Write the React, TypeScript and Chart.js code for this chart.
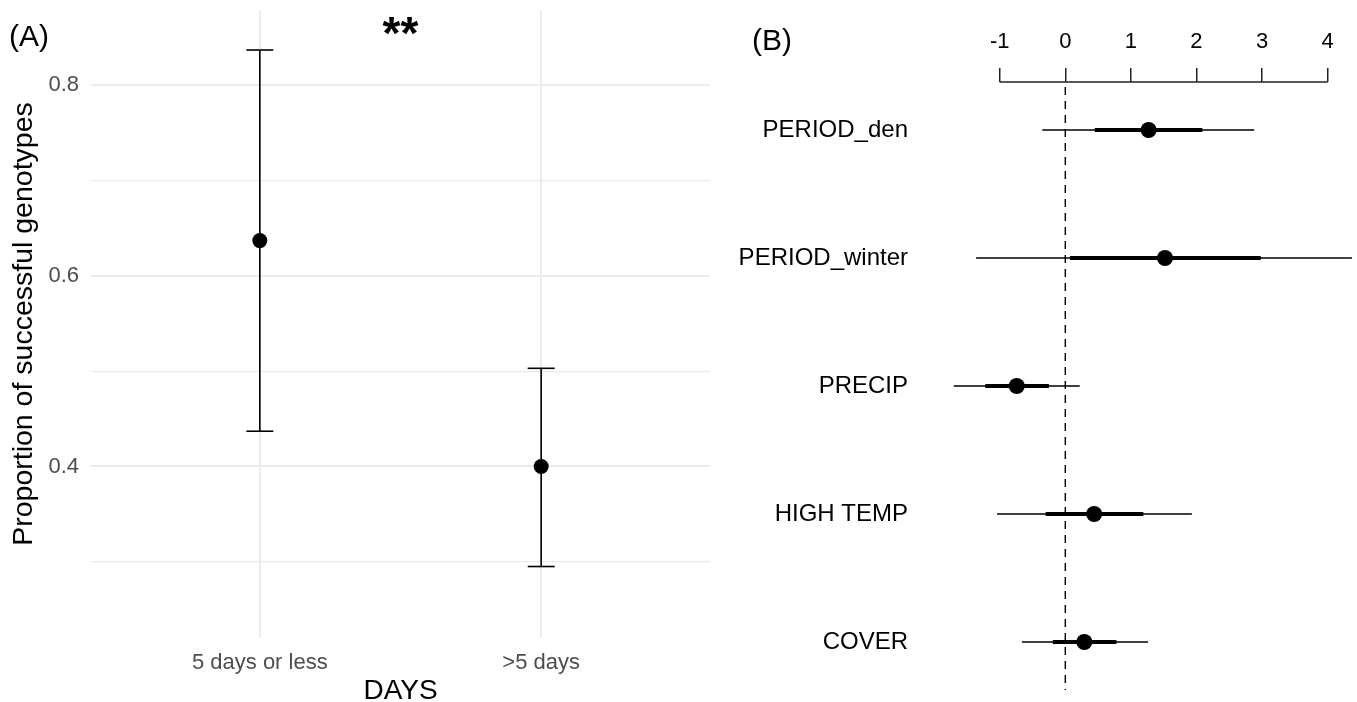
import React, { useEffect, useRef } from "react";
import { Chart, registerables } from "chart.js";
Chart.register(...registerables);

const FONT = "'Liberation Sans', Arial, Helvetica, sans-serif";

// ---------- Panel A data ----------
const daysCategories = ["5 days or less", ">5 days"];
const proportionMean = [0.637, 0.4];
const proportionLower = [0.437, 0.295];
const proportionUpper = [0.837, 0.503];
const yTicksA = [0.3, 0.4, 0.5, 0.6, 0.7, 0.8];
const yLabelTicksA = [0.4, 0.6, 0.8];
const significanceText = "**";
const significancePos = { x: 0.5, y: 0.862 };

// ---------- Panel B data ----------
const predictors = ["PERIOD_den", "PERIOD_winter", "PRECIP", "HIGH TEMP", "COVER"];
const estimate = [1.27, 1.52, -0.74, 0.44, 0.29];
const lower95 = [-0.35, -1.36, -1.7, -1.04, -0.66];
const upper95 = [2.88, 4.37, 0.22, 1.93, 1.26];
const lower50 = [0.45, 0.07, -1.22, -0.3, -0.19];
const upper50 = [2.09, 2.98, -0.25, 1.19, 0.78];
const xTicksB = [-1, 0, 1, 2, 3, 4];
const referenceX = 0;

const near = (a: number, b: number) => Math.abs(a - b) < 1e-6;
const rowY = (i: number) => predictors.length - i;

const noEdgePadding = (s: any) => {
  s.paddingTop = 0;
  s.paddingBottom = 0;
  s.paddingLeft = 0;
  s.paddingRight = 0;
};

function buildChartA(canvas: HTMLCanvasElement) {
  const datasets: any[] = [];
  daysCategories.forEach((_, i) => {
    datasets.push({
      data: [
        { x: i, y: proportionLower[i] },
        { x: i, y: proportionUpper[i] },
      ],
      showLine: true,
      borderColor: "#000",
      borderWidth: 1.6,
      pointStyle: "line",
      pointRadius: 13.5,
      pointBorderWidth: 1.6,
      pointBorderColor: "#000",
      pointBackgroundColor: "#000",
    });
  });
  datasets.push({
    data: daysCategories.map((_, i) => ({ x: i, y: proportionMean[i] })),
    pointStyle: "circle",
    pointRadius: 7.5,
    backgroundColor: "#000",
    borderColor: "#000",
    borderWidth: 0,
  });

  const labelsPlugin = {
    id: "labelsA",
    afterDraw(chart: any) {
      const { ctx, scales } = chart;
      ctx.save();
      ctx.fillStyle = "#000";
      ctx.textBaseline = "middle";
      ctx.textAlign = "left";
      ctx.font = `30px ${FONT}`;
      ctx.fillText("(A)", 9, 38);
      ctx.textAlign = "center";
      ctx.font = `bold 46px ${FONT}`;
      ctx.fillText(
        significanceText,
        scales.x.getPixelForValue(significancePos.x),
        scales.y.getPixelForValue(significancePos.y) + 10
      );
      ctx.restore();
    },
  };

  return new Chart(canvas, {
    type: "scatter",
    data: { datasets },
    plugins: [labelsPlugin],
    options: {
      animation: false,
      responsive: false,
      events: [],
      layout: { autoPadding: false, padding: { top: 10, right: 10, left: 0, bottom: 0 } },
      plugins: { legend: { display: false }, tooltip: { enabled: false } },
      scales: {
        x: {
          type: "linear",
          min: -0.6,
          max: 1.6,
          afterBuildTicks: (s: any) => {
            s.ticks = daysCategories.map((_, i) => ({ value: i }));
          },
          afterFit: (s: any) => {
            s.height = 64;
            noEdgePadding(s);
          },
          ticks: {
            callback: (v: any) => daysCategories[Math.round(v)],
            font: { size: 22, family: FONT },
            color: "#4D4D4D",
            padding: 12,
            maxRotation: 0,
            autoSkip: false,
          },
          grid: { color: "#EBEBEB", lineWidth: 2, drawTicks: false },
          border: { display: false },
          title: {
            display: true,
            text: "DAYS",
            font: { size: 28, family: FONT, lineHeight: 0.75 },
            color: "#000",
            padding: 0,
          },
        },
        y: {
          type: "linear",
          min: 0.22,
          max: 0.879,
          afterBuildTicks: (s: any) => {
            s.ticks = yTicksA.map((v) => ({ value: v }));
          },
          afterFit: (s: any) => {
            s.width = 91;
            noEdgePadding(s);
          },
          ticks: {
            callback: (v: any) =>
              yLabelTicksA.some((t) => near(t, v)) ? Number(v).toFixed(1) : "",
            font: { size: 22, family: FONT },
            color: "#4D4D4D",
            padding: 12,
            autoSkip: false,
          },
          grid: {
            color: "#EBEBEB",
            lineWidth: (c: any) =>
              c.tick && yLabelTicksA.some((t) => near(t, c.tick.value)) ? 2 : 1.2,
            drawTicks: false,
          },
          border: { display: false },
          title: {
            display: true,
            text: "Proportion of successful genotypes",
            font: { size: 28.5, family: FONT, lineHeight: 1.2 },
            color: "#000",
            padding: { top: 7, bottom: 0 },
          },
        },
      },
    },
  } as any);
}

function buildChartB(canvas: HTMLCanvasElement) {
  const datasets: any[] = [];
  predictors.forEach((_, i) => {
    datasets.push({
      data: [
        { x: lower95[i], y: rowY(i) },
        { x: upper95[i], y: rowY(i) },
      ],
      showLine: true,
      borderColor: "#000",
      borderWidth: 1.5,
      pointRadius: 0,
    });
    datasets.push({
      data: [
        { x: lower50[i], y: rowY(i) },
        { x: upper50[i], y: rowY(i) },
      ],
      showLine: true,
      borderColor: "#000",
      borderWidth: 4,
      pointRadius: 0,
    });
  });
  datasets.push({
    data: predictors.map((_, i) => ({ x: estimate[i], y: rowY(i) })),
    pointStyle: "circle",
    pointRadius: 8,
    backgroundColor: "#000",
    borderColor: "#000",
    borderWidth: 0,
  });

  const decoPlugin = {
    id: "decoB",
    beforeDatasetsDraw(chart: any) {
      const { ctx, scales, chartArea } = chart;
      const x0 = scales.x.getPixelForValue(referenceX);
      ctx.save();
      ctx.strokeStyle = "#000";
      ctx.lineWidth = 1.4;
      ctx.setLineDash([8, 6]);
      ctx.beginPath();
      ctx.moveTo(x0, chartArea.top + 5);
      ctx.lineTo(x0, chartArea.bottom - 12);
      ctx.stroke();
      ctx.restore();
    },
    afterDraw(chart: any) {
      const { ctx, scales, chartArea } = chart;
      ctx.save();
      ctx.strokeStyle = "#222";
      ctx.lineWidth = 1.5;
      ctx.beginPath();
      ctx.moveTo(scales.x.getPixelForValue(xTicksB[0]), chartArea.top);
      ctx.lineTo(scales.x.getPixelForValue(xTicksB[xTicksB.length - 1]), chartArea.top);
      ctx.stroke();
      ctx.fillStyle = "#000";
      ctx.textBaseline = "middle";
      ctx.textAlign = "left";
      ctx.font = `30px ${FONT}`;
      ctx.fillText("(B)", 32, 42);
      ctx.restore();
    },
  };

  return new Chart(canvas, {
    type: "scatter",
    data: { datasets },
    plugins: [decoPlugin],
    options: {
      animation: false,
      responsive: false,
      events: [],
      layout: { autoPadding: false, padding: 0 },
      plugins: { legend: { display: false }, tooltip: { enabled: false } },
      scales: {
        x: {
          type: "linear",
          position: "top",
          min: -2.0625,
          max: 4.447,
          afterBuildTicks: (s: any) => {
            s.ticks = xTicksB.map((v) => ({ value: v }));
          },
          afterFit: (s: any) => {
            s.height = 82;
            noEdgePadding(s);
          },
          ticks: {
            callback: (v: any) => String(v),
            font: { size: 22, family: FONT },
            color: "#000",
            padding: 13,
            maxRotation: 0,
            autoSkip: false,
          },
          grid: {
            drawOnChartArea: false,
            drawTicks: true,
            tickLength: 14,
            color: "#222",
            lineWidth: 1.5,
          },
          border: { display: false },
        },
        y: {
          type: "linear",
          min: 0.531,
          max: 5.375,
          afterBuildTicks: (s: any) => {
            s.ticks = predictors.map((_, i) => ({ value: rowY(i) }));
          },
          afterFit: (s: any) => {
            s.width = 210;
            noEdgePadding(s);
          },
          ticks: {
            callback: (v: any) => predictors[predictors.length - Math.round(v)],
            font: { size: 24, family: FONT },
            color: "#000",
            padding: 14,
            autoSkip: false,
          },
          grid: { display: false },
          border: { display: false },
        },
      },
    },
  } as any);
}

export default function App() {
  const refA = useRef<HTMLCanvasElement | null>(null);
  const refB = useRef<HTMLCanvasElement | null>(null);
  useEffect(() => {
    Chart.defaults.font.family = FONT;
    const a = buildChartA(refA.current!);
    const b = buildChartB(refB.current!);
    return () => {
      a.destroy();
      b.destroy();
    };
  }, []);
  return (
    <div
      style={{
        position: "absolute",
        left: 0,
        top: 0,
        width: 1357,
        height: 702,
        background: "#fff",
        overflow: "hidden",
      }}
    >
      <canvas
        ref={refA}
        width={720}
        height={702}
        style={{ position: "absolute", left: 0, top: 0, width: 720, height: 702 }}
      />
      <canvas
        ref={refB}
        width={637}
        height={702}
        style={{ position: "absolute", left: 720, top: 0, width: 637, height: 702 }}
      />
    </div>
  );
}
